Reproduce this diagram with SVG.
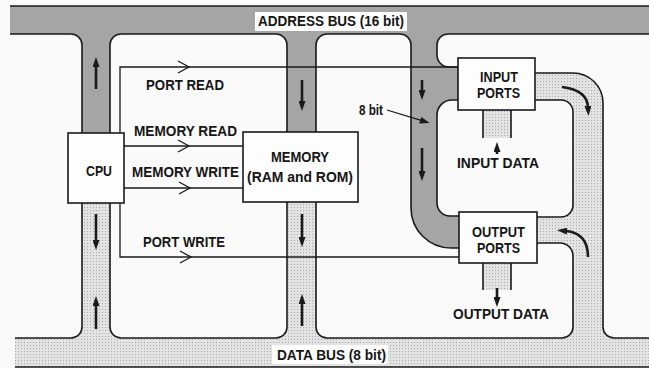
<svg xmlns="http://www.w3.org/2000/svg" width="649" height="368" viewBox="0 0 649 368">
<style>
.txt{font-family:"Liberation Sans",Arial,sans-serif;font-size:14px;font-weight:bold;fill:#151515}
.edge{fill:none;stroke:#1a1a1a;stroke-width:1.6}
.sig{fill:none;stroke:#1a1a1a;stroke-width:1.3}
.box{fill:#fdfdfd;stroke:#1a1a1a;stroke-width:1.6}
.bar{fill:none;stroke:#1a1a1a;stroke-width:2.6}
</style>
<defs>
<pattern id="dots" width="3" height="3" patternUnits="userSpaceOnUse">
<rect width="3" height="3" fill="#e3e3e3"/><rect width="1" height="1" fill="#a9a9a9"/>
</pattern>
<marker id="tri" viewBox="0 0 10 7" refX="1" refY="3.5" markerWidth="10" markerHeight="7" markerUnits="userSpaceOnUse" orient="auto">
<path d="M0,0 L10,3.5 L0,7 z" fill="#1a1a1a"/>
</marker>
</defs>
<rect width="649" height="368" fill="#fafafa"/>

<g id="address-bus">
<path fill="#a5a5a5" d="M10,6 H649 V34 H448 A11,11 0 0 0 437,45 V55 A12,12 0 0 0 449,67 H458 V100 H452 A15,15 0 0 0 437,115 V203 A13,13 0 0 0 450,216 H459 V248 H451 A40,40 0 0 1 411,208 V45 A11,11 0 0 0 400,34 H327 A11,11 0 0 0 316,45 V132 H287 V45 A11,11 0 0 0 276,34 H121 A11,11 0 0 0 110,45 V133 H82 V45 A11,11 0 0 0 71,34 H10 Z"/>
</g>
<g id="data-bus">
<path fill="url(#dots)" d="M15,338 H71 A11,11 0 0 0 82,327 V203 H110 V327 A11,11 0 0 0 121,338 H276 A11,11 0 0 0 287,327 V201 H316 V327 A11,11 0 0 0 327,338 H562 A11,11 0 0 0 573,327 V256 A13,13 0 0 0 560,243 H537 V217 H561 A12,12 0 0 0 573,205 V112 A12,12 0 0 0 561,100 H535 V73 H573 A30,30 0 0 1 603,103 V327 A11,11 0 0 0 614,338 H649 V367 H15 Z"/>
<rect x="483" y="110" width="28" height="28" fill="url(#dots)"/>
<rect x="483" y="263" width="28" height="27" fill="url(#dots)"/>
</g>

<g id="bus-edges">
<path class="edge" d="M10,6 H649"/>
<path class="edge" d="M15,367 H649"/>
<path class="edge" d="M10,34 H71 A11,11 0 0 1 82,45 V133"/>
<path class="edge" d="M82,203 V327 A11,11 0 0 1 71,338 H15"/>
<path class="edge" d="M110,133 V45 A11,11 0 0 1 121,34 H276 A11,11 0 0 1 287,45 V132"/>
<path class="edge" d="M287,201 V327 A11,11 0 0 1 276,338 H121 A11,11 0 0 1 110,327 V203"/>
<path class="edge" d="M316,132 V45 A11,11 0 0 1 327,34 H400 A11,11 0 0 1 411,45 V208 A40,40 0 0 0 451,248 H459"/>
<path class="edge" d="M537,243 H560 A13,13 0 0 1 573,256 V327 A11,11 0 0 1 562,338 H327 A11,11 0 0 1 316,327 V201"/>
<path class="edge" d="M458,100 H452 A15,15 0 0 0 437,115 V203 A13,13 0 0 0 450,216 H459"/>
<path class="edge" d="M537,217 H561 A12,12 0 0 0 573,205 V112 A12,12 0 0 0 561,100 H535"/>
<path class="edge" d="M649,34 H448 A11,11 0 0 0 437,45 V55 A12,12 0 0 0 449,67 H458"/>
<path class="edge" d="M535,73 H573 A30,30 0 0 1 603,103 V327 A11,11 0 0 0 614,338 H649"/>
<path class="edge" d="M483,110 V138 M511,110 V138 M483,263 V290 M511,263 V290"/>
</g>

<g id="connectors">
<path class="sig" d="M120,133 V67 H458"/>
<path class="sig" d="M178,61 L189,67 L178,73"/>
<path class="sig" d="M124,146 H243"/>
<path class="sig" d="M178,140 L189,146 L178,152"/>
<path class="sig" d="M124,188 H243"/>
<path class="sig" d="M179,182 L190,188 L179,194"/>
<path class="sig" d="M120,203 V257 H459"/>
<path class="sig" d="M180,251 L191,257 L180,263"/>
<path class="sig" d="M387,110 L421,120.4" marker-end="url(#tri)"/>
<path class="bar" d="M96,89 V66" marker-end="url(#tri)"/>
<path class="bar" d="M302,80 V102" marker-end="url(#tri)"/>
<path class="bar" d="M422,80 V91" marker-end="url(#tri)"/>
<path class="bar" d="M422,148 V172" marker-end="url(#tri)"/>
<path class="bar" d="M497,154 V151" marker-end="url(#tri)"/>
<path class="bar" d="M96,214 V241" marker-end="url(#tri)"/>
<path class="bar" d="M96,329 V305" marker-end="url(#tri)"/>
<path class="bar" d="M302,214 V238" marker-end="url(#tri)"/>
<path class="bar" d="M302,326 V303" marker-end="url(#tri)"/>
<path class="bar" d="M497,288 V298" marker-end="url(#tri)"/>
<path class="bar" d="M562,87 Q587,90 588,107" marker-end="url(#tri)"/>
<path class="bar" d="M588,257 Q588,233 566,231" marker-end="url(#tri)"/>
</g>

<g id="cpu">
<rect class="box" x="68" y="133" width="56" height="70"/>
<text class="txt" x="86" y="176" textLength="26" lengthAdjust="spacingAndGlyphs">CPU</text>
</g>
<g id="memory">
<rect class="box" x="243" y="132" width="115" height="70"/>
<text class="txt" x="271" y="162" textLength="58" lengthAdjust="spacingAndGlyphs">MEMORY</text>
<text class="txt" x="247" y="182" textLength="106" lengthAdjust="spacingAndGlyphs">(RAM and ROM)</text>
</g>
<g id="input-ports">
<rect class="box" x="458" y="58" width="77" height="52"/>
<text class="txt" x="480" y="82" textLength="38" lengthAdjust="spacingAndGlyphs">INPUT</text>
<text class="txt" x="477" y="98" textLength="43" lengthAdjust="spacingAndGlyphs">PORTS</text>
</g>
<g id="output-ports">
<rect class="box" x="459" y="212" width="78" height="51"/>
<text class="txt" x="472" y="237" textLength="53" lengthAdjust="spacingAndGlyphs">OUTPUT</text>
<text class="txt" x="477" y="253" textLength="43" lengthAdjust="spacingAndGlyphs">PORTS</text>
</g>

<g id="labels">
<rect x="255" y="12" width="152" height="19" fill="#fdfdfd"/>
<text class="txt" x="258" y="26" textLength="146" lengthAdjust="spacingAndGlyphs">ADDRESS BUS (16 bit)</text>
<rect x="272" y="345" width="116" height="19" fill="#fdfdfd"/>
<text class="txt" x="277" y="360" textLength="109" lengthAdjust="spacingAndGlyphs">DATA BUS (8 bit)</text>
<text class="txt" x="146" y="90" textLength="78" lengthAdjust="spacingAndGlyphs">PORT READ</text>
<text class="txt" x="134" y="136" textLength="103" lengthAdjust="spacingAndGlyphs">MEMORY READ</text>
<text class="txt" x="132" y="177" textLength="107" lengthAdjust="spacingAndGlyphs">MEMORY WRITE</text>
<text class="txt" x="143" y="247" textLength="82" lengthAdjust="spacingAndGlyphs">PORT WRITE</text>
<text class="txt" x="359" y="115" textLength="24" lengthAdjust="spacingAndGlyphs">8 bit</text>
<text class="txt" x="457" y="168" textLength="82" lengthAdjust="spacingAndGlyphs">INPUT DATA</text>
<text class="txt" x="453" y="319" textLength="96" lengthAdjust="spacingAndGlyphs">OUTPUT DATA</text>
</g>
</svg>
